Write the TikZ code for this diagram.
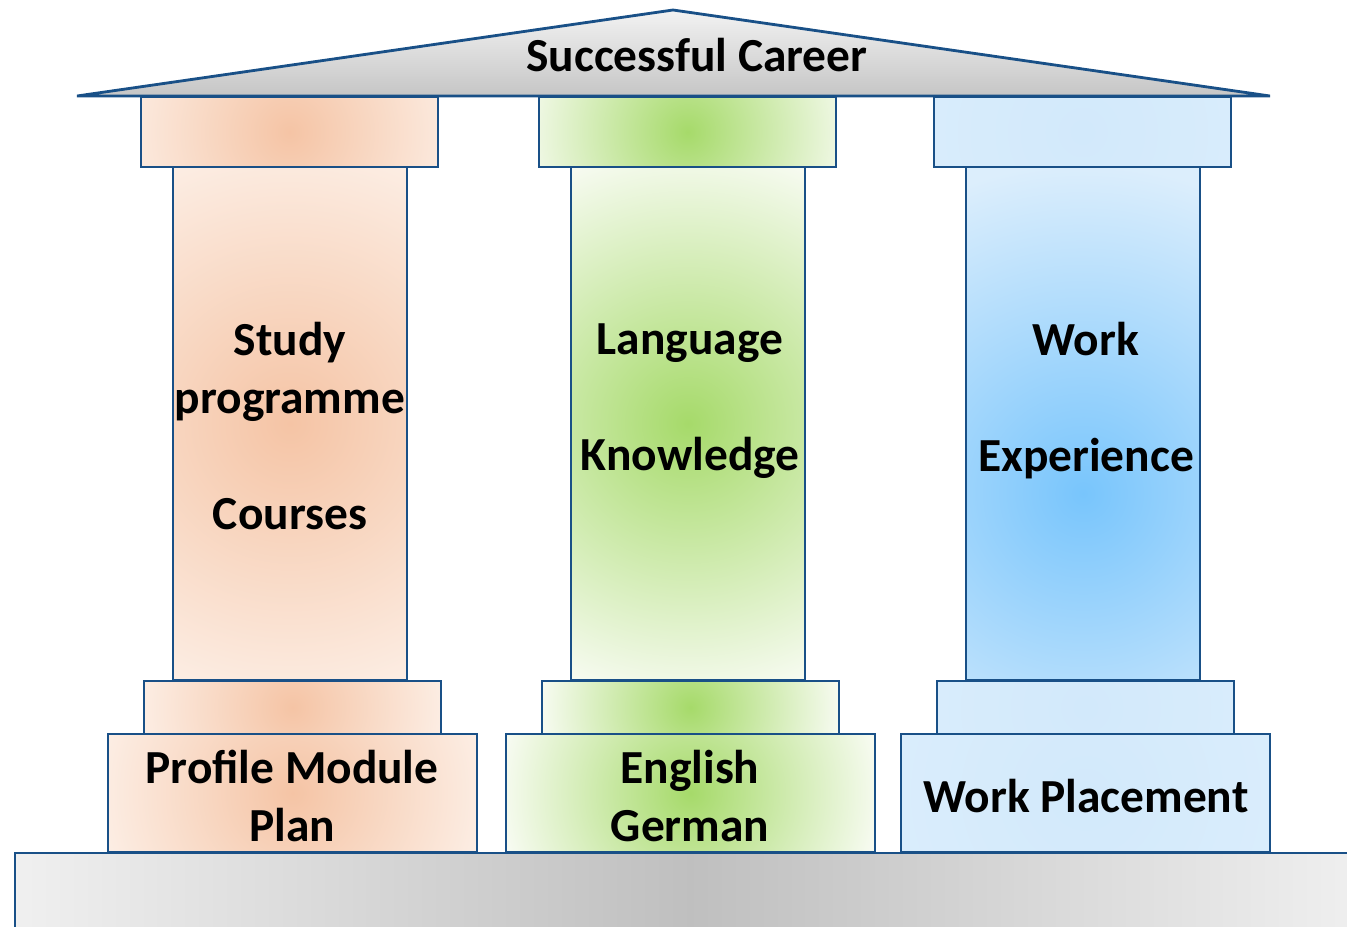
\documentclass[tikz,border=0pt]{standalone}
\usepackage{fontspec}
\setmainfont{Carlito}
\usepackage{xcolor}
\usepackage{tikz}

\definecolor{pillarline}{RGB}{25,80,135}
\definecolor{peachin}{RGB}{245,196,165}
\definecolor{peachout}{RGB}{252,237,227}
\definecolor{leafin}{RGB}{166,218,106}
\definecolor{leafout}{RGB}{247,251,241}
\definecolor{skyin}{RGB}{120,197,252}
\definecolor{skyout}{RGB}{220,238,252}
\definecolor{skylight}{RGB}{210,233,251}
\definecolor{glowin}{RGB}{255,255,255}
\definecolor{glowout}{RGB}{255,255,255}
\pgfdeclareradialshading[glowin,glowout]{glow}{\pgfpointorigin}{color(0bp)=(glowin); color(12.5bp)=(glowout); color(50bp)=(glowout)}

\tikzset{
  pillar/.style={draw=pillarline, line width=1.6pt},
  spotfill/.style n args={4}{pillar, fill=#2, path picture={\shade[shading=glow, /utils/exec={\colorlet{glowin}{#1}\colorlet{glowout}{#2}}] ([yshift=#4]path picture bounding box.center) circle (#3);}},
  peachspot/.style={spotfill={peachin}{peachout}{#1}{0cm}},
  leafspot/.style={spotfill={leafin}{leafout}{#1}{0cm}},
  skyspot/.style={spotfill={skylight}{skyout}{#1}{0cm}},
  skylow/.style={spotfill={skyin}{skyout}{#1}{-1.4cm}},
  pillartext/.style={font=\bfseries\fontsize{27}{33}\selectfont, align=center, text=black}
}

\begin{document}
\begin{tikzpicture}[x=0.02cm, y=-0.02cm]
\useasboundingbox (0,0) rectangle (1347,927);
\draw[pillar, left color=gray!12, right color=gray!12, middle color=gray!50] (15,945) rectangle (1365,853);

\draw[peachspot=340] (141,97) rectangle (438,167);
\draw[peachspot=560] (173,167) rectangle (407,680);
\draw[peachspot=300] (144,681) rectangle (441,734);
\draw[peachspot=380] (108,734) rectangle (477,852);

\draw[leafspot=340] (539,97) rectangle (836,167);
\draw[leafspot=560] (571,167) rectangle (805,680);
\draw[leafspot=300] (542,681) rectangle (839,734);
\draw[leafspot=380] (506,734) rectangle (875,852);

\draw[skyspot=500] (934,97) rectangle (1231,167);
\draw[skylow=660] (966,167) rectangle (1200,680);
\draw[skyspot=500] (937,681) rectangle (1234,734);
\draw[skyspot=500] (901,734) rectangle (1270,852);

\draw[pillar, top color=gray!10, bottom color=gray!45] (77,96) -- (673,10) -- (1270,96) -- cycle;

\node[pillartext] (career) at (697,55) {Successful Career};
\node[pillartext] (study) at (290,426) {Study\\programme\\[33pt]Courses};
\node[pillartext] (language) at (690,401) {Language\\[33pt]Knowledge};
\node[pillartext] (work) at (1086,401) {Work\\[33pt]Experience};
\node[pillartext] (profile) at (292,796) {Profile Module\\Plan};
\node[pillartext] (english) at (690,796) {English\\German};
\node[pillartext] (placement) at (1086,796) {Work Placement};
\end{tikzpicture}
\end{document}
